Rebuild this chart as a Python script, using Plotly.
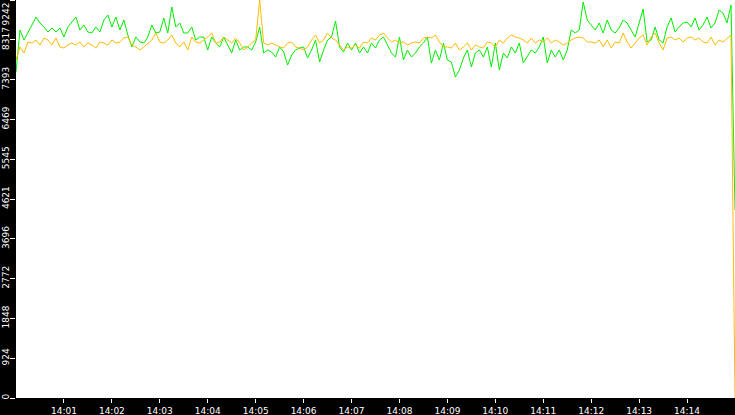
import pandas as pd
import plotly.graph_objects as go

# samples every 5 s from 14:00:00, last one at 14:15:00
green_vals = [
    7570, 8545, 8313, 8476, 8661, 8847, 8708, 8615, 8499, 8592, 8499, 8592, 8383, 8615, 8731, 8847, 8545, 8661,
    8499, 8476, 8615, 8499, 8777, 8893, 8615, 8847, 8545, 8777, 8429, 8151, 8383, 8267, 8243, 8383, 8661, 8476,
    8499, 8824, 8476, 9080, 8615, 8708, 8476, 8476, 8615, 8313, 8383, 8383, 8081, 8383, 8243, 8151, 8383, 8197,
    8011, 8313, 8081, 8151, 8151, 8081, 8267, 8615, 8011, 8081, 8034, 7918, 8151, 8034, 7732, 7964, 8081, 8127,
    8151, 7895, 8081, 8313, 7802, 8081, 8313, 8383, 8754, 8151, 8034, 8243, 8081, 8243, 8011, 8151, 8011, 8243,
    8127, 8313, 8383, 8197, 8011, 7918, 8383, 7848, 8081, 7918, 8011, 8151, 8243, 8383, 7779, 8081, 7848, 8243,
    7848, 7802, 7453, 7616, 7895, 8081, 7686, 8011, 8081, 7918, 8151, 7686, 8243, 7616, 8011, 7895, 8151, 8011,
    8243, 7779, 7918, 8081, 8011, 8151, 8383, 7779, 8081, 7918, 8081, 7848, 8081, 8545, 8476, 8545, 9195, 8777,
    8661, 8545, 8708, 8476, 8777, 8545, 8476, 8592, 8777, 8708, 8545, 8383, 8708, 9033, 8267, 8313, 8615, 8313,
    8243, 8615, 8824, 8499, 8615, 8708, 8731, 8615, 8824, 8545, 8661, 8847, 8592, 8708, 9010, 8940, 8708, 9126,
    4365,
]
orange_vals = [
    7848, 8151, 8011, 8267, 8243, 8313, 8197, 8359, 8313, 8197, 8359, 8151, 8127, 8197, 8243, 8197, 8267, 8151,
    8243, 8197, 8127, 8267, 8243, 8197, 8313, 8243, 8267, 8359, 8383, 8197, 8151, 8081, 8151, 8243, 8313, 8476,
    8267, 8243, 8313, 8429, 8243, 8151, 8267, 8081, 8383, 8267, 8243, 8313, 8383, 8476, 8243, 8267, 8383, 8313,
    8243, 8359, 8243, 8081, 8151, 8243, 8313, 9242, 8243, 8197, 8243, 8197, 8151, 8127, 8243, 8267, 8151, 8127,
    8081, 8151, 8313, 8429, 8243, 8313, 8476, 8359, 8313, 8197, 8081, 8151, 8127, 8197, 8127, 8267, 8243, 8359,
    8313, 8429, 8476, 8359, 8267, 8313, 8243, 8267, 8197, 8243, 8267, 8243, 8359, 8383, 8359, 8429, 8267, 8151,
    8151, 8127, 8243, 8081, 8151, 8243, 8081, 8197, 8151, 8127, 8267, 8243, 8151, 8313, 8243, 8359, 8429, 8383,
    8359, 8313, 8243, 8359, 8243, 8313, 8267, 8359, 8243, 8313, 8267, 8197, 8243, 8313, 8359, 8383, 8359, 8267,
    8267, 8243, 8313, 8151, 8313, 8127, 8267, 8243, 8476, 8267, 8127, 8243, 8359, 8429, 8197, 8383, 8476, 8243,
    8081, 8359, 8383, 8313, 8359, 8267, 8359, 8383, 8313, 8359, 8267, 8243, 8383, 8197, 8313, 8267, 8359, 8429,
    0,
]
times = pd.date_range("2024-01-01 14:00:00", periods=len(green_vals), freq="5s")

y_max = 9242
y_tick_labels = ["0", "924", "1848", "2772", "3696", "4621", "5545", "6469", "7393", "8317", "9242"]
x_tick_labels = ["14:01", "14:02", "14:03", "14:04", "14:05", "14:06", "14:07",
                 "14:08", "14:09", "14:10", "14:11", "14:12", "14:13", "14:14"]
x_tick_vals = [pd.Timestamp("2024-01-01 " + t) for t in x_tick_labels]
y_tick_vals = [y_max / 10 * i for i in range(len(y_tick_labels))]

fig = go.Figure()
fig.add_trace(go.Scatter(x=times, y=green_vals, mode="lines",
                         line=dict(color="#00ee00", width=1)))
fig.add_trace(go.Scatter(x=times, y=orange_vals, mode="lines",
                         line=dict(color="#ffbb00", width=1)))

fnt = dict(family="DejaVu Sans", size=9, color="white")
fig.update_layout(
    width=735, height=415,
    margin=dict(l=16, r=0, t=0, b=17, pad=0),
    paper_bgcolor="black", plot_bgcolor="white",
    showlegend=False,
    font=fnt,
)
fig.update_xaxes(
    range=[times[0], times[-1]], automargin=False,
    tickvals=x_tick_vals, ticktext=x_tick_labels,
    ticks="outside", ticklen=4, tickcolor="white", tickwidth=1,
    showgrid=False, zeroline=False, showline=False, tickfont=fnt,
)
# top label is drawn as annotation so it stays inside the page
fig.update_yaxes(
    range=[0, y_max], automargin=False,
    tickvals=y_tick_vals, ticktext=y_tick_labels[:-1] + [""],
    tickangle=-90, ticklabelstandoff=-3,
    ticks="outside", ticklen=5, tickcolor="white", tickwidth=1,
    showgrid=False, zeroline=False, showline=False, tickfont=fnt,
)
fig.add_annotation(x=0, y=1, xref="paper", yref="paper", text=y_tick_labels[-1],
                   textangle=-90, showarrow=False, xanchor="right", yanchor="top",
                   xshift=-4, yshift=-1, font=fnt)

# page has an 8px body margin by default, drop it
fig.write_html("out.html", config={"displayModeBar": False},
               post_script="document.body.style.margin='0';document.body.style.overflow='hidden';")
